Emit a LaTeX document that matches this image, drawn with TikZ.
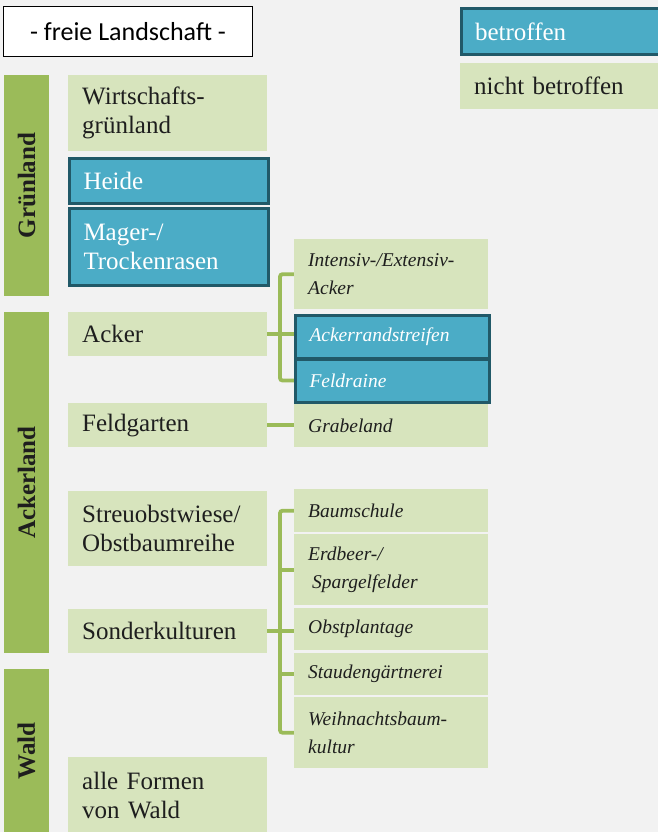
\documentclass[tikz,border=0pt]{standalone}
\usepackage{fontspec}
\setmainfont{Liberation Serif}
\newfontfamily\titlefont{Carlito}
\definecolor{bgc}{HTML}{F2F2F2}
\definecolor{lgreen}{HTML}{D7E4BD}
\definecolor{dgreen}{HTML}{9BBB59}
\definecolor{tblue}{HTML}{4BACC6}
\definecolor{bborder}{HTML}{215968}
\definecolor{txt}{HTML}{1E1E1E}
\pgfdeclarelayer{back}
\pgfsetlayers{back,main}
\begin{document}
\begin{tikzpicture}[x=1pt,y=-1pt,
 box/.style={anchor=north west, inner xsep=14pt, inner ysep=0pt, align=left, text=txt},
 nb/.style={box, fill=lgreen},
 hit/.style={box, fill=tblue, draw=bborder, line width=3pt, text=white},
 l1/.style={font=\fontsize{25}{29}\selectfont, text width=171pt, minimum height=#1},
 l2/.style={font=\fontsize{19.5}{28}\selectfont\itshape, text width=166pt, minimum height=#1},
 cat/.style={fill=dgreen, rotate=90, minimum height=45pt, minimum width=#1, inner sep=0pt, font=\fontsize{25}{28}\selectfont\bfseries, text=txt},
 conn/.style={draw=dgreen, line width=3.8pt, rounded corners=2.5pt}]
\useasboundingbox (0,0) rectangle (658,832);
\clip (0,0) rectangle (658,832);

% title and legend
\node[draw=black, line width=1.5pt, fill=white, minimum width=249pt, minimum height=50pt, inner sep=0pt, font=\titlefont\fontsize{26}{30}\selectfont] (title) at (128,31.5) {- freie Landschaft -};
\node[hit, l1=46pt, text width=190pt] (lhit) at (459.5,7.5) {betroffen};
\node[nb, l1=46pt, text width=190pt] (lnb) at (460,63) {nicht betroffen};

% category bars
\node[cat=221pt] (gruen) at (26.5,185.5) {Grünland};
\node[cat=341pt] (ackerland) at (26.5,482.5) {Ackerland};
\node[cat=164pt] (waldcat) at (26.5,751) {Wald};

% level 1
\node[nb, l1=76pt] (wg) at (68,75) {Wirtschafts-\\grünland};
\node[hit, l1=45pt] (heide) at (68,156.5) {Heide};
\node[hit, l1=77pt] (mager) at (68,206.5) {Mager-/\\Trockenrasen};
\node[nb, l1=44pt] (acker) at (68,312) {Acker};
\node[nb, l1=44pt] (feldgarten) at (68,403) {Feldgarten};
\node[nb, l1=75pt] (streu) at (68,491) {Streuobstwiese/\\Obstbaumreihe};
\node[nb, l1=44pt] (sonder) at (68,609) {Sonderkulturen};
\node[nb, l1=76pt] (wald) at (68,757) {alle Formen\\von Wald};

% level 2
\node[nb, l2=70pt] (intensiv) at (294,239) {Intensiv-/Extensiv-\\Acker};
\node[hit, l2=43pt] (ackerrand) at (294,313.5) {Ackerrandstreifen};
\node[hit, l2=43pt] (feldraine) at (294,357.5) {Feldraine};
\node[nb, l2=43pt] (grabeland) at (294,404) {Grabeland};
\node[nb, l2=43pt] (baumschule) at (294,489) {Baumschule};
\node[nb, l2=71pt] (erdbeer) at (294,534) {Erdbeer-/\\\hspace*{4pt}Spargelfelder};
\node[nb, l2=42pt] (obst) at (294,608) {Obstplantage};
\node[nb, l2=42pt] (stauden) at (294,653) {Staudengärtnerei};
\node[nb, l2=71pt] (weih) at (294,697) {Weihnachtsbaum-\\kultur};

\begin{pgfonlayer}{back}
\fill[bgc] (0,0) rectangle (658,832);
\draw[conn] (intensiv.west) -- ++(-14,0) |- (feldraine.west);
\draw[conn] (acker.east) -- (acker.east -| ackerrand.west);
\draw[conn] (feldgarten.east) -- (feldgarten.east -| grabeland.west);
\draw[conn] (baumschule.west) -- ++(-14,0) |- (weih.west);
\draw[conn] (erdbeer.west) -- ++(-14,0);
\draw[conn] (stauden.west) -- ++(-14,0);
\draw[conn] (sonder.east) -- (sonder.east -| obst.west);
\end{pgfonlayer}
\end{tikzpicture}
\end{document}
